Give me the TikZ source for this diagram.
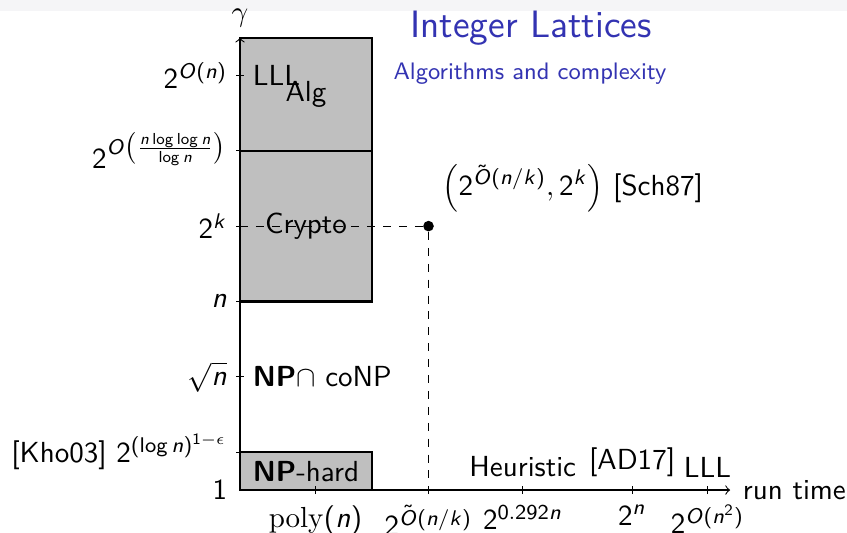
\documentclass[tikz,border=0pt,11pt]{standalone}
\usetikzlibrary{positioning}
\renewcommand{\familydefault}{\sfdefault}
\SetSymbolFont{operators}{normal}{OT1}{cmss}{m}{n}
\DeclareSymbolFont{sfletters}{OT1}{cmss}{m}{sl}
\DeclareMathSymbol{n}{\mathalpha}{sfletters}{`n}
\DeclareMathSymbol{k}{\mathalpha}{sfletters}{`k}
\DeclareMathSymbol{O}{\mathalpha}{sfletters}{`O}
\DeclareMathAlphabet{\mathrm}{OT1}{cmr}{m}{n}
\definecolor{titleblue}{rgb}{0.2,0.2,0.7}
\definecolor{stripgray}{RGB}{245,245,247}

\begin{document}
\begin{tikzpicture}[
    region/.style={
        rectangle, draw, thick, fill=lightgray,
        minimum width=1.75cm, inner sep=0pt
    },
    dot/.style={circle, fill, inner sep=0pt, minimum size=4pt},
    axis/.style={->},
    tick/.style={line width=0.4pt}
]
\useasboundingbox (-3.183,-0.557) rectangle (8.05,6.499);
\fill[stripgray] (-3.183,6.353) rectangle (8.05,6.499);

\node[anchor=base west, inner sep=0pt, font=\Large, text=titleblue] (title) at (2.255,5.995) {Integer Lattices};
\node[anchor=base west, inner sep=0pt, font=\footnotesize, text=titleblue] (subtitle) at (2.03,5.44) {Algorithms and complexity};

\node[region, minimum height=1.5cm] (alg)    at (0.875,5.25) {Alg};
\node[region, minimum height=2cm]   (crypto) at (0.875,3.5)  {Crypto};
\node[region, minimum height=0.5cm] (nphard) at (0.875,0.25) {\textbf{NP}-hard};

\coordinate (o)     at (0,0);
\coordinate (xmax)  at (6.5,0);
\coordinate (ymax)  at (0,6);
\coordinate (yLLL)  at (0,5.5);
\coordinate (ysub)  at (0,4.5);
\coordinate (yk)    at (0,3.5);
\coordinate (yn)    at (0,2.5);
\coordinate (ysqrt) at (0,1.5);
\coordinate (ykho)  at (0,0.5);
\coordinate (xpoly) at (1,0);
\coordinate (xsch)  at (2.5,0);
\coordinate (xheur) at (3.75,0);
\coordinate (xad)   at (5.2,0);
\coordinate (xlll)  at (6.2,0);

\draw[axis] (o) -- (xmax);
\draw[axis] (o) -- (ymax);

\draw[tick] ([xshift=-1.5pt]yLLL)  -- ([xshift=1.5pt]yLLL);
\draw[tick] ([xshift=-1.5pt]ysub)  -- ([xshift=1.5pt]ysub);
\draw[tick] ([xshift=-1.5pt]yk)    -- ([xshift=1.5pt]yk);
\draw[tick] ([xshift=-1.5pt]yn)    -- ([xshift=1.5pt]yn);
\draw[tick] ([xshift=-1.5pt]ysqrt) -- ([xshift=1.5pt]ysqrt);
\draw[tick] ([xshift=-1.5pt]ykho)  -- ([xshift=1.5pt]ykho);
\draw[tick] ([yshift=-1.5pt]xpoly) -- ([yshift=1.5pt]xpoly);
\draw[tick] ([yshift=-1.5pt]xsch)  -- ([yshift=1.5pt]xsch);
\draw[tick] ([yshift=-1.5pt]xheur) -- ([yshift=1.5pt]xheur);
\draw[tick] ([yshift=-1.5pt]xad)   -- ([yshift=1.5pt]xad);
\draw[tick] ([yshift=-1.5pt]xlll)  -- ([yshift=1.5pt]xlll);

\node[dot] (pt) at (2.5,3.5) {};
\draw[dashed] (yk) -- (pt);
\draw[dashed] (pt) -- (xsch);
\node[above right=0pt of pt] (ptlbl) {$\left(2^{\tilde{O}(n/k)}, 2^k\right)$ [Sch87]};

% y axis
\node[above=0pt of ymax] (gamma) {$\gamma$};
\node[left=1pt of yLLL]  (lLLL)  {$2^{O(n)}$};
\node[left=1pt of ysub]  (lsub)  {$2^{O\left(\frac{n\log\log n}{\log n}\right)}$};
\node[left=1pt of yk]    (lk)    {$2^k$};
\node[left=1pt of yn]    (ln)    {$n$};
\node[left=1pt of ysqrt] (lsqrt) {$\sqrt{n}$};
\node[left=1pt of ykho]  (lkho)  {[Kho03] $2^{(\log n)^{1-\epsilon}}$};
\node[left=1pt of o]     (lone)  {1};
\node[right=1pt of yLLL]  (rLLL)  {LLL};
\node[right=1pt of ysqrt] (rsqrt) {\textbf{NP}$\cap$ coNP};

% x axis
\node[right=1pt of xmax] (runtime) {run time};
\node[below=2pt of xpoly] (bpoly) {$\mathrm{poly}(n)$};
\node[below=2pt of xsch]  (bsch)  {$2^{\tilde{O}(n/k)}$};
\node[below=2pt of xheur] (bheur) {$2^{0.292n}$};
\node[below=2pt of xad]   (bad)   {$2^n$};
\node[below=2pt of xlll]  (blll)  {$2^{O(n^2)}$};
\node[above=1pt of xheur] (aheur) {Heuristic};
\node[above=1pt of xad]   (aad)   {[AD17]};
\node[above=1pt of xlll]  (alll)  {LLL};

\end{tikzpicture}
\end{document}
